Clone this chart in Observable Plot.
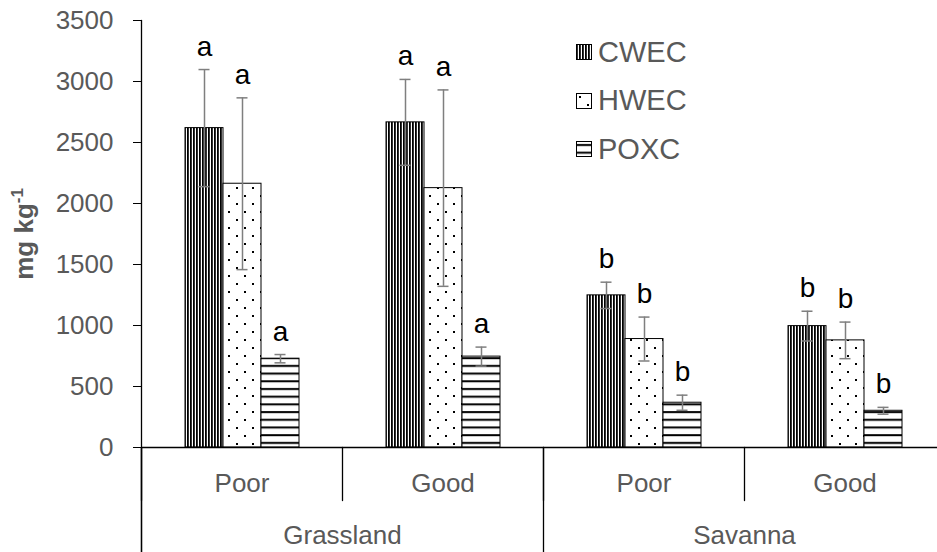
<!DOCTYPE html>
<html><head><meta charset="utf-8">
<script src="https://cdn.jsdelivr.net/npm/d3@7"></script>
<script src="https://cdn.jsdelivr.net/npm/@observablehq/plot@0.6"></script>
<style>
html,body{margin:0;padding:0;background:#fff;overflow:hidden;width:937px;height:552px;}
#wrap{position:relative;width:946px;height:552px;font-family:"Liberation Sans",Arial,sans-serif;}
#legend{position:absolute;left:576px;top:28px;color:#595959;font-size:29px;}
#legend .row{display:flex;align-items:center;height:48.5px;}
#legend svg{margin-right:6px;}
#ytitle{position:absolute;left:24px;top:234px;transform:translate(-50%,-50%) rotate(-90deg);font-weight:bold;font-size:26px;color:#595959;white-space:nowrap;}
#ytitle sup{font-size:0.65em;vertical-align:0.55em;line-height:0;}
</style></head>
<body>
<svg width="0" height="0" style="position:absolute">
 <defs>
  <pattern id="pCWEC" patternUnits="userSpaceOnUse" width="3" height="3"><rect width="3" height="3" fill="#fff"/><rect width="1.8" height="3" fill="#000"/></pattern>
  <pattern id="pHWEC" patternUnits="userSpaceOnUse" width="16" height="16"><rect width="16" height="16" fill="#fff"/><rect x="3" y="3" width="2" height="2" fill="#000"/><rect x="11" y="11" width="2" height="2" fill="#000"/></pattern>
  <pattern id="pPOXC" patternUnits="userSpaceOnUse" width="8" height="7.7"><rect width="8" height="7.7" fill="#fff"/><rect y="3" width="8" height="2" fill="#000"/></pattern>
 </defs>
</svg>
<div id="wrap">
  <div id="ytitle">mg kg<sup>-1</sup></div>
  <div id="legend"></div>
</div>
<script>
// ---- data ----
const habitats = ["Grassland", "Grassland", "Savanna", "Savanna"];
const conditions = ["Poor", "Good", "Poor", "Good"];
const series = ["CWEC", "HWEC", "POXC"];
const cwec = [2618, 2665, 1247, 995];
const cwecErr = [480, 352, 108, 122];
const hwec = [2162, 2126, 889, 878];
const hwecErr = [704, 805, 180, 150];
const poxc = [728, 745, 367, 301];
const poxcErr = [34, 78, 62, 28];
const cwecLetters = ["a", "a", "b", "b"];
const hwecLetters = ["a", "a", "b", "b"];
const poxcLetters = ["a", "a", "b", "b"];
const yTicks = [0, 500, 1000, 1500, 2000, 2500, 3000, 3500];

// ---- build table ----
const groups = habitats.map((h, i) => h + "|" + conditions[i]);
const values = {CWEC: cwec, HWEC: hwec, POXC: poxc};
const errs = {CWEC: cwecErr, HWEC: hwecErr, POXC: poxcErr};
const letters = {CWEC: cwecLetters, HWEC: hwecLetters, POXC: poxcLetters};
const rows = [];
groups.forEach((g, i) => series.forEach(s => rows.push({
  group: g, habitat: habitats[i], condition: conditions[i], series: s,
  value: values[s][i], err: errs[s][i], letter: letters[s][i]
})));
const groupRows = groups.map((g, i) => ({group: g, condition: conditions[i], habitat: habitats[i]}));
const habitatRows = groupRows.filter((d, i) => habitats.indexOf(d.habitat) === i);
const lo = d => d.value - d.err;
const hi = d => d.value + d.err;

const W = 946, H = 552, ML = 140, MT = 20, MB = 105;
const lineShape = {draw(context, l) { context.moveTo(0, 0); context.lineTo(0, -l); }};
const gray = "#595959";

const chart = Plot.plot({
  width: W, height: H,
  marginLeft: ML, marginRight: 0, marginTop: MT, marginBottom: MB,
  style: {fontFamily: "Liberation Sans, Arial, sans-serif", background: "transparent", overflow: "visible"},
  fx: {domain: groups, padding: 0, axis: null},
  x: {domain: series, paddingInner: 0, paddingOuter: 1.08, axis: null},
  y: {domain: [0, 3500], axis: null},
  marks: [
    ...series.map(s => Plot.rectY(rows.filter(d => d.series === s), {
      fx: "group", x: "series", y: "value", fill: `url(#p${s})`, stroke: "#000", strokeWidth: 1
    })),
    Plot.ruleX(rows, {fx: "group", x: "series", y1: lo, y2: hi, stroke: "#7f7f7f", strokeWidth: 1.5}),
    Plot.tickY(rows, {fx: "group", x: "series", y: lo, stroke: "#7f7f7f", strokeWidth: 1.5, insetLeft: 13.5, insetRight: 13.5}),
    Plot.tickY(rows, {fx: "group", x: "series", y: hi, stroke: "#7f7f7f", strokeWidth: 1.5, insetLeft: 13.5, insetRight: 13.5}),
    Plot.text(rows, {fx: "group", x: "series", y: hi, text: "letter", dy: -23, fontSize: 28, fill: "#000"}),
    Plot.ruleY([0], {stroke: "#000", strokeWidth: 1.3}),
    Plot.axisY({ticks: yTicks, tickSize: 8, tickPadding: 20, fontSize: 26, stroke: "#000", fill: gray, label: null, tickFormat: d => String(d)}),
    // y axis line
    Plot.vector(groupRows.slice(0, 1), {fx: "group", frameAnchor: "top-left", anchor: "start", rotate: 180, length: H - MT, shape: lineShape, stroke: "#000", strokeWidth: 1.3}),
    // condition dividers
    Plot.vector(groupRows, {fx: "group", frameAnchor: "bottom-left", anchor: "start", rotate: 180, length: 53, shape: lineShape, stroke: "#000", strokeWidth: 1.3}),
    // habitat dividers
    Plot.vector(habitatRows, {fx: "group", frameAnchor: "bottom-left", anchor: "start", rotate: 180, length: MB, shape: lineShape, stroke: "#000", strokeWidth: 1.3}),
    Plot.text(groupRows, {fx: "group", text: "condition", frameAnchor: "bottom", dy: 44, fontSize: 26, fill: gray}),
    Plot.text(habitatRows, {fx: "group", text: "habitat", frameAnchor: "bottom-right", textAnchor: "middle", dy: 96, fontSize: 26, fill: gray})
  ]
});
document.getElementById("wrap").prepend(chart);

// legend
const legend = document.getElementById("legend");
series.forEach(s => {
  const row = document.createElement("div");
  row.className = "row";
  row.innerHTML = `<svg width="16" height="16"><rect x="0.5" y="0.5" width="15" height="15" fill="url(#p${s})" stroke="#000" stroke-width="1"/></svg><span>${s}</span>`;
  legend.appendChild(row);
});
</script>
</body></html>
